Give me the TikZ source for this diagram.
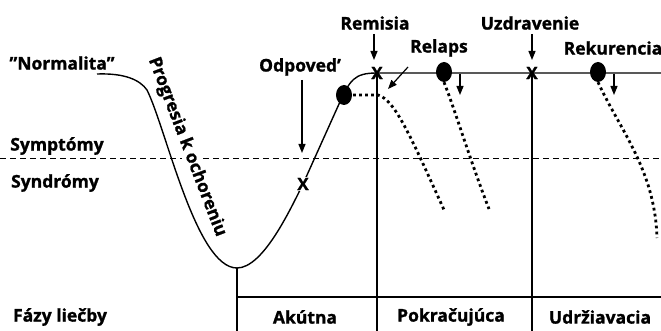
\documentclass[tikz,border=0pt]{standalone}
\usepackage{fontspec}
\setmainfont{Open Sans}[FakeBold=1.2]
\usetikzlibrary{arrows.meta,shapes.geometric}
\begin{document}
\begin{tikzpicture}[x=1pt,y=-1pt,
  lab/.style={font=\fontsize{17.5}{19}\selectfont\bfseries, inner sep=0pt},
  xmark/.style={font=\fontsize{17}{18}\selectfont\bfseries, inner sep=0pt},
  main/.style={line width=1.4pt},
  dotline/.style={line width=2.8pt, dash pattern=on 2.8pt off 3.2pt},
  dashline/.style={line width=1pt, dash pattern=on 6pt off 4pt},
  arr/.style={line width=1.2pt, -{Triangle[length=9pt,width=7pt]}},
  blob/.style={ellipse, fill=black, minimum width=16pt, minimum height=20pt, inner sep=0pt}]
\useasboundingbox (0,0) rectangle (661,331);

% texts
\node[lab] (norm) at (62,63) {\char34 Normalita\char34};
\node[lab] (symp) at (57,146) {Symptómy};
\node[lab] (synd) at (55,183) {Syndrómy};
\node[lab] (fazy) at (60,317) {Fázy liečby};
\node[lab] (akut) at (305,317) {Akútna};
\node[lab] (pokr) at (451,317) {Pokračujúca};
\node[lab] (udrz) at (600,317) {Udržiavacia};
\node[lab] (odp) at (300,67) {Odpoved’};
\node[lab] (rem) at (375,23) {Remisia};
\node[lab] (rel) at (439,48) {Relaps};
\node[lab] (uzd) at (530,23) {Uzdravenie};
\node[lab] (rek) at (613,48) {Rekurencia};
\node[lab, rotate=-69] (prog) at (187,147) {Progresia k ochoreniu};

% dashed threshold
\coordinate (d0) at (0,159);
\coordinate (d1) at (182,159);
\coordinate (d2) at (203,159);
\coordinate (d3) at (661,159);
\draw[dashline] (d0) -- (d1);
\draw[dashline] (d2) -- (d3);

% main curve
\coordinate (c0) at (97,74);
\coordinate (c1) at (147,90);
\coordinate (bot) at (237,268);
\coordinate (xa) at (303,184);
\coordinate (c2) at (339,104);
\coordinate (xr) at (377,73);
\coordinate (xu) at (532,73);
\coordinate (c3) at (661,73);
\draw[main] (c0) .. controls (125,73) and (140,80) .. (c1)
  .. controls (166,128) and (196,268) .. (bot)
  .. controls (263,268) and (290,210) .. (xa)
  -- (c2) .. controls (350,80) and (354,73) .. (xr) -- (c3);

% phase table
\coordinate (b0) at (237,331);
\coordinate (b1) at (377,331);
\coordinate (b2) at (532,331);
\coordinate (h0) at (237,297);
\coordinate (h1) at (661,297);
\draw[main] (bot) -- (b0);
\draw[main] (xr) -- (b1);
\draw[main] (xu) -- (b2);
\draw[main] (h0) -- (h1);

% X marks
\node[xmark, fill=white, inner sep=0.5pt] (xA) at (xa) {X};
\node[xmark] (xR) at (377,73) {X};
\node[xmark] (xU) at (532,73) {X};

% dots
\node[blob] (dO) at (344,95) {};
\node[blob] (dR) at (444,72) {};
\node[blob] (dK) at (598,72) {};

% dotted relapse curves
\coordinate (p1a) at (353,95);
\coordinate (p1e) at (445,212);
\draw[dotline] (p1a) -- (378,95) .. controls (395,100) and (410,135) .. (p1e);
\coordinate (p2e) at (489,209);
\draw[dotline] (dR.south) .. controls (455,110) and (470,160) .. (p2e);
\coordinate (p3e) at (657,238);
\draw[dotline] (dK.south) .. controls (620,130) and (655,170) .. (p3e);

% arrows
\coordinate (a1s) at (302,80); \coordinate (a1e) at (302,153);
\draw[arr] (a1s) -- (a1e);
\coordinate (a2s) at (374,34); \coordinate (a2e) at (374,60);
\draw[arr] (a2s) -- (a2e);
\coordinate (a3s) at (532,34); \coordinate (a3e) at (532,60);
\draw[arr] (a3s) -- (a3e);
\coordinate (a4s) at (460,74); \coordinate (a4e) at (460,95);
\draw[arr] (a4s) -- (a4e);
\coordinate (a5s) at (614,74); \coordinate (a5e) at (614,95);
\draw[arr] (a5s) -- (a5e);
\coordinate (a6s) at (408,67); \coordinate (a6e) at (388,89);
\draw[arr] (a6s) -- (a6e);
\end{tikzpicture}
\end{document}
